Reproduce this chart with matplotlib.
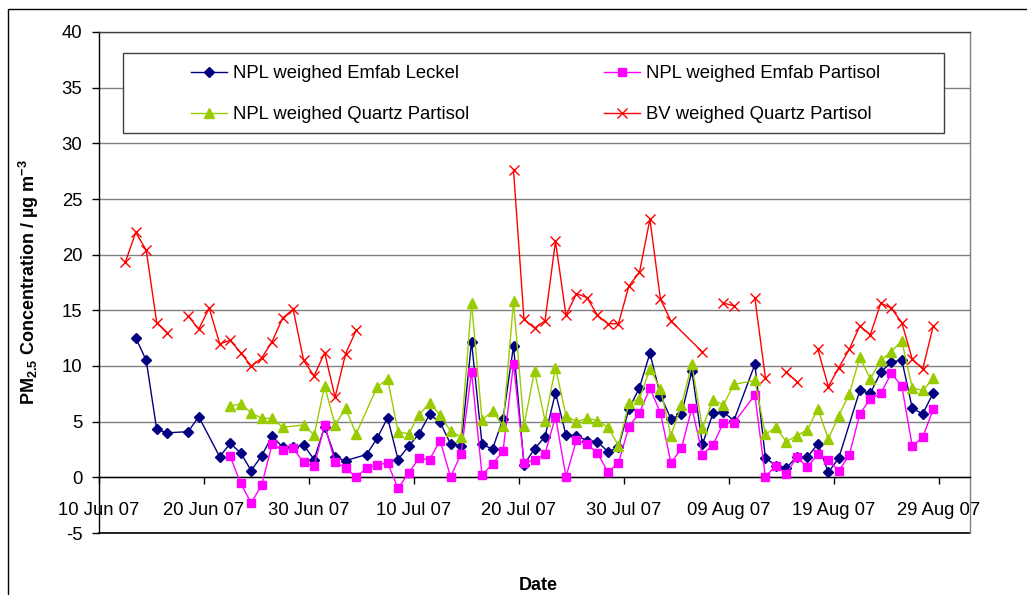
import matplotlib
matplotlib.use("Agg")
import matplotlib.pyplot as plt
import matplotlib.dates as mdates
from matplotlib.patches import Rectangle
import numpy as np
import pandas as pd

plt.rcParams["font.family"] = ["Liberation Sans", "DejaVu Sans"]
plt.rcParams["axes.unicode_minus"] = False
plt.rcParams["mathtext.fontset"] = "custom"
plt.rcParams["mathtext.rm"] = "Liberation Sans"
plt.rcParams["mathtext.bf"] = "Liberation Sans:bold"
plt.rcParams["mathtext.default"] = "regular"

# daily sampling dates for the NPL series, 13 Jun 07 .. 28 Aug 07
npl_dates = pd.date_range("2007-06-13", "2007-08-28", freq="D")

emfab_leckel = [
    12.55, 10.5, 4.3, 4.0, None, 4.1, 5.45, None, 1.85, 3.05,
    2.2, 0.6, 1.95, 3.7, 2.7, 2.7, 2.9, 1.6, 4.55, 1.8,
    1.5, None, 2.05, 3.5, 5.35, 1.6, 2.8, 3.9, 5.65, 4.95,
    3.0, 2.8, 12.2, 2.95, 2.55, 5.25, 11.8, 1.15, 2.55, 3.65,
    7.6, 3.8, 3.75, 3.3, 3.2, 2.3, 2.7, 6.15, 8.05, 11.15,
    7.35, 5.25, 5.65, 9.55, 2.95, 5.75, 5.85, 5.1, None, 10.15,
    1.75, 1.05, 0.85, 1.85, 1.8, 3.0, 0.45, 1.75, None, 7.8,
    7.55, 9.45, 10.35, 10.55, 6.2, 5.7, 7.6,
]

emfab_partisol = [
    None, None, None, None, None, None, None, None, None, 1.9,
    -0.55, -2.3, -0.7, 3.0, 2.45, 2.6, 1.35, 1.0, 4.7, 1.35,
    0.85, 0.0, 0.85, 1.1, 1.3, -1.0, 0.4, 1.7, 1.6, 3.3,
    0.05, 2.1, 9.5, 0.2, 1.2, 2.35, 10.2, 1.3, 1.55, 2.1,
    5.45, 0.05, 3.35, 2.95, 2.2, 0.45, 1.3, 4.55, 5.8, 8.0,
    5.8, 1.3, 2.6, 6.25, 2.05, 2.9, 4.9, 4.9, None, 7.4,
    0.05, 1.05, 0.3, 1.85, 0.9, 2.1, 1.55, 0.6, 2.0, 5.7,
    7.05, 7.55, 9.35, 8.2, 2.8, 3.6, 6.15,
]

quartz_partisol = [
    None, None, None, None, None, None, None, None, None, 6.4,
    6.6, 5.8, 5.3, 5.3, 4.5, None, 4.7, 3.8, 8.2, 4.7,
    6.2, 3.9, None, 8.1, 8.85, 4.1, 3.9, 5.6, 6.7, 5.6,
    4.15, 3.65, 15.7, 5.15, 5.95, 4.65, 15.8, 4.65, 9.55, 5.1,
    9.85, 5.55, 5.0, 5.3, 5.1, 4.5, 2.85, 6.65, 7.05, 9.75,
    7.95, 3.75, 6.5, 10.15, 4.4, 6.95, 6.5, 8.35, None, 8.7,
    3.85, 4.5, 3.2, 3.75, 4.25, 6.15, 3.45, 5.55, 7.5, 10.8,
    8.85, 10.5, 11.3, 12.25, 8.05, 7.8, 8.9,
]

# BV series: None marks a break in the line
bv_dates = [
    "2007-06-12", "2007-06-13", "2007-06-14", "2007-06-15", "2007-06-16", "2007-06-17",
    "2007-06-18", "2007-06-19", "2007-06-20", "2007-06-21", "2007-06-22", "2007-06-23",
    "2007-06-24", "2007-06-25", "2007-06-26", "2007-06-27", "2007-06-28", "2007-06-29",
    "2007-06-30", "2007-07-01", "2007-07-02", "2007-07-03", "2007-07-04", "2007-07-05",
    "2007-07-19", "2007-07-20", "2007-07-21", "2007-07-22", "2007-07-23", "2007-07-24",
    "2007-07-25", "2007-07-26", "2007-07-27", "2007-07-28", "2007-07-29", "2007-07-30",
    "2007-07-31", "2007-08-01", "2007-08-02", "2007-08-03", "2007-08-06", "2007-08-07",
    "2007-08-08", "2007-08-09", "2007-08-10", "2007-08-11", "2007-08-12", "2007-08-13",
    "2007-08-14", "2007-08-15", "2007-08-16", "2007-08-17", "2007-08-18", "2007-08-19",
    "2007-08-20", "2007-08-21", "2007-08-22", "2007-08-23", "2007-08-24", "2007-08-25",
    "2007-08-26", "2007-08-27", "2007-08-28",
]
bv_quartz_partisol = [
    19.3, 22.0, 20.4, 13.9, 13.0, None,
    14.5, 13.3, 15.2, 12.0, 12.3, 11.2,
    10.0, 10.7, 12.2, 14.3, 15.1, 10.5,
    9.1, 11.2, 7.2, 11.1, 13.2, None,
    27.6, 14.2, 13.4, 14.05, 21.2, 14.55,
    16.5, 16.15, 14.55, 13.8, 13.8, 17.2,
    18.4, 23.2, 16.0, 14.05, 11.25, None,
    15.65, 15.4, None, 16.1, 8.95, None,
    9.45, 8.6, None, 11.5, 8.15, 9.85,
    11.5, 13.6, 12.8, 15.65, 15.2, 13.9,
    10.6, 9.75, 13.6,
]

tick_dates = pd.date_range("2007-06-10", "2007-08-29", freq="10D")
y_ticks = [-5, 0, 5, 10, 15, 20, 25, 30, 35, 40]

W, H = 1027, 595
fig = plt.figure(figsize=(W / 100, H / 100), dpi=100)
ax = fig.add_axes([99 / W, 1 - 533 / H, 871 / W, 501 / H])

half_day = pd.Timedelta(hours=12)
npl_x = npl_dates + half_day


def series(vals, x):
    s = pd.Series(np.array(vals, dtype=float), index=x)
    return s.dropna()


s_leckel = series(emfab_leckel, npl_x)
s_emfab = series(emfab_partisol, npl_x)
s_quartz = series(quartz_partisol, npl_x)
bv_x = pd.to_datetime(bv_dates) + half_day
bv_y = np.array(bv_quartz_partisol, dtype=float)

h1, = ax.plot(s_leckel.index, s_leckel.values, color="#000080", lw=1.0,
              marker="D", ms=5, mec="#000080", mfc="#000080", zorder=3,
              label="NPL weighed Emfab Leckel")
h2, = ax.plot(s_emfab.index, s_emfab.values, color="#FF00FF", lw=1.0,
              marker="s", ms=5.5, mec="#FF00FF", mfc="#FF00FF", zorder=4,
              label="NPL weighed Emfab Partisol")
h3, = ax.plot(s_quartz.index, s_quartz.values, color="#99CC00", lw=1.0,
              marker="^", ms=7, mec="#99CC00", mfc="#99CC00", zorder=5,
              label="NPL weighed Quartz Partisol")
h4, = ax.plot(bv_x, bv_y, color="#FF0000", lw=1.0,
              marker="x", ms=7, mew=1.0, zorder=6,
              label="BV weighed Quartz Partisol")

ax.set_xlim(pd.Timestamp("2007-06-10"), pd.Timestamp("2007-09-01"))
ax.set_ylim(-5, 40)
ax.set_yticks(y_ticks)
ax.set_xticks(tick_dates)
ax.xaxis.set_major_formatter(mdates.DateFormatter("%d %b %y"))

ax.grid(axis="y", color="#808080", lw=1.0, zorder=0)
ax.set_axisbelow(True)
ax.axhline(-5, color="black", lw=1.2, zorder=2, clip_on=False)

ax.spines["bottom"].set_position(("data", 0))
ax.spines["bottom"].set_color("black")
ax.spines["left"].set_color("black")
ax.spines["top"].set_color("#404040")
ax.spines["right"].set_color("#808080")
for sp in ax.spines.values():
    sp.set_linewidth(1.0)

ax.tick_params(axis="x", direction="out", length=5, width=1, pad=12.5,
               labelsize=13.3, colors="black")
ax.tick_params(axis="y", direction="out", length=5, width=1, pad=7,
               labelsize=13.3, colors="black")

ax.set_ylabel(r"PM$_{2.5}$ Concentration / µg m$^{-3}$", fontsize=13,
              fontweight="bold")
ax.yaxis.set_label_coords(-0.0665, 0.5)
fig.text(538 / W, 1 - 585 / H, "Date", ha="center", va="center",
         fontsize=13, fontweight="bold")

# legend frame and outer chart border
fig.patches.append(Rectangle((123 / W, 1 - 133 / H), 821 / W, 80 / H,
                             transform=fig.transFigure, facecolor="white",
                             edgecolor="#404040", lw=1.0, zorder=1))
fig.patches.append(Rectangle((8 / W, -0.5), 2.0, 1.5 - 9 / H,
                             transform=fig.transFigure, fill=False,
                             edgecolor="black", lw=1.0, zorder=1))

fig.legend(handles=[h1, h3, h2, h4], ncol=2, frameon=False,
           loc="upper left", bbox_to_anchor=(191 / W, 1 - 65 / H),
           borderpad=0, borderaxespad=0, fontsize=13.3,
           handlelength=1.94, handletextpad=0.33, columnspacing=7.3,
           labelspacing=1.32, markerscale=1.0)

fig.savefig("out.png", dpi=100)
